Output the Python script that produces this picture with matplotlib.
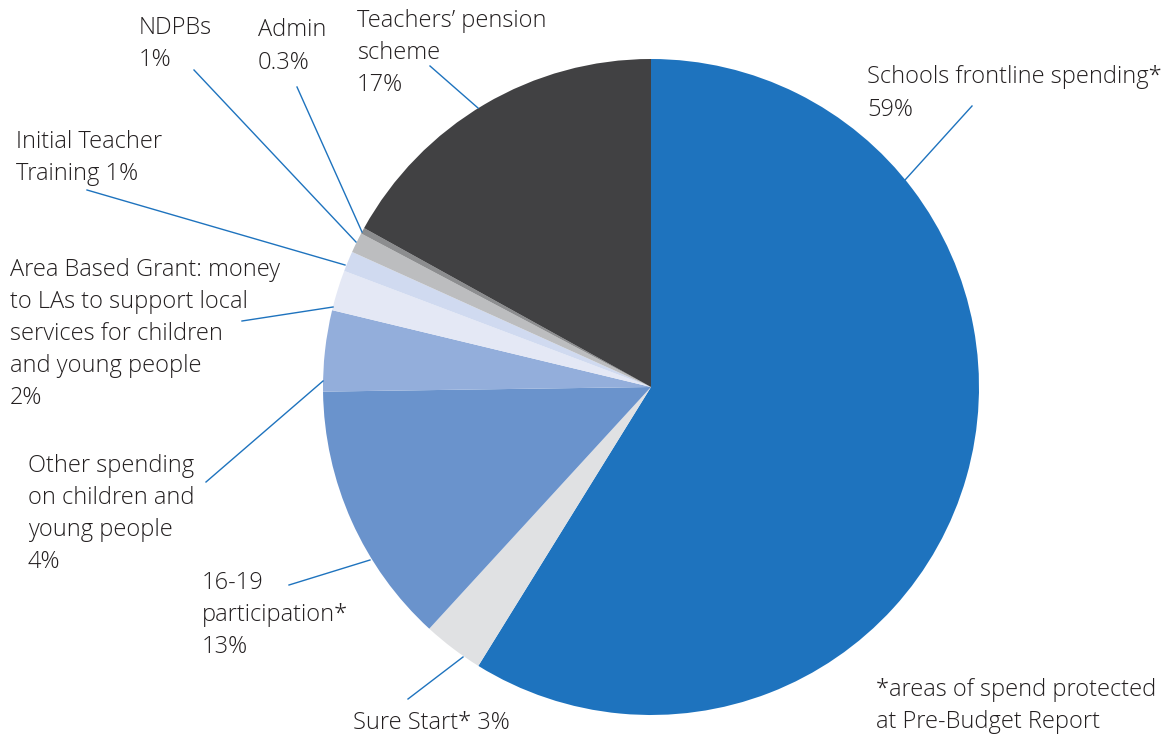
import matplotlib
matplotlib.use("Agg")
import matplotlib.pyplot as plt
from matplotlib.lines import Line2D

W, H = 1174, 738

categories = ["Schools frontline spending*", "Sure Start*", "16-19 participation*",
              "Other spending on children and young people", "Area Based Grant",
              "Initial Teacher Training", "NDPBs", "Admin", "Teachers' pension scheme"]
values = [59, 3, 13, 4, 2, 1, 1, 0.3, 17]
colors = ["#1e73be", "#e0e1e3", "#6a93cc", "#93aedb", "#e4e8f5",
          "#d0daf0", "#bcbdbf", "#8c8d8f", "#414143"]
labels = ["Schools frontline spending*\n59%",
          "Sure Start* 3%",
          "16-19\nparticipation*\n13%",
          "Other spending\non children and\nyoung people\n4%",
          "Area Based Grant: money\nto LAs to support local\nservices for children\nand young people\n2%",
          "Initial Teacher\nTraining 1%",
          "NDPBs\n1%",
          "Admin\n0.3%",
          "Teachers\u2019 pension\nscheme\n17%"]
note = "*areas of spend protected\nat Pre-Budget Report"

# layout (pixels): label left x / first baseline y, leader line start, leader line end
label_pos = [(867, 84), (353, 729), (202, 590), (28, 473), (10, 278),
             (16, 148), (139, 34), (258, 37), (357, 28)]
leaders = [((972, 106), (905, 180)),
           ((408, 699), (463, 657)),
           ((289, 585), (370, 560)),
           ((206, 482), (323, 381)),
           ((242, 321), (333, 307)),
           ((87, 190), (345, 265)),
           ((194, 70), (356, 242)),
           ((297, 87), (362, 232)),
           ((430, 66), (478, 108))]
LINE_PX = 31.6

plt.rcParams['font.family'] = ['Open Sans', 'DejaVu Sans']

fig = plt.figure(figsize=(W / 100, H / 100), dpi=100)
cx, cy, r = 651, 387, 328
ax = fig.add_axes([(cx - r) / W, (H - cy - r) / H, 2 * r / W, 2 * r / H])
ax.pie(values, colors=colors, startangle=90, counterclock=False, radius=1,
       wedgeprops=dict(linewidth=0))
ax.set_xlim(-1, 1)
ax.set_ylim(-1, 1)
ax.axis('off')

def fx(x):
    return x / W

def fy(y):
    return 1 - y / H

for (p0, p1) in leaders:
    fig.add_artist(Line2D([fx(p0[0]), fx(p1[0])], [fy(p0[1]), fy(p1[1])],
                          transform=fig.transFigure, color="#1e73be", lw=1.0))

def put(text, x, y):
    n = text.count("\n")
    fig.text(fx(x), fy(y + n * LINE_PX), text, ha='left', va='baseline',
             fontsize=17, color="#231f20", fontweight='light', linespacing=1.45)

for lab, (x, y) in zip(labels, label_pos):
    put(lab, x, y)

put(note, 876, 696)

fig.savefig("out.png", dpi=100)
